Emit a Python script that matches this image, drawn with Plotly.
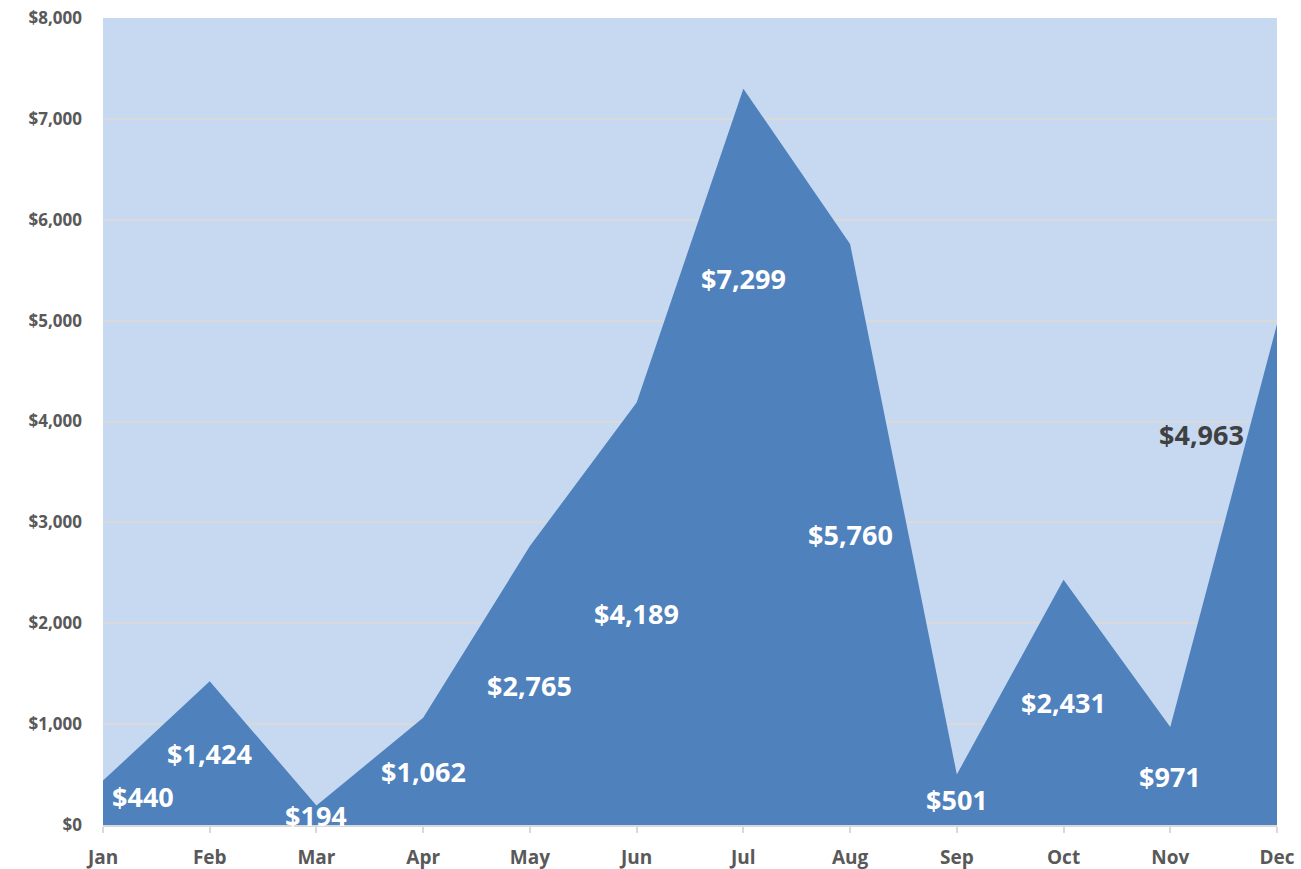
import plotly.graph_objects as go

months = ["Jan", "Feb", "Mar", "Apr", "May", "Jun", "Jul", "Aug", "Sep", "Oct", "Nov", "Dec"]
sales = [440, 1424, 194, 1062, 2765, 4189, 7299, 5760, 501, 2431, 971, 4963]
y_ticks = [0, 1000, 2000, 3000, 4000, 5000, 6000, 7000, 8000]

# label placement tweaks (pixel shifts) for labels moved off the centre of the area
label_shift = {0: (40, 6), 6: (0, 178), 11: (-76, 140)}
label_color = {11: "#404040"}

x = list(range(len(months)))

fig = go.Figure()
fig.add_trace(go.Scatter(
    x=x, y=sales, mode="lines", fill="tozeroy",
    line=dict(color="#4F81BD", width=0), fillcolor="#4F81BD",
    hoverinfo="skip", showlegend=False,
))

for i, v in enumerate(sales):
    dx, dy = label_shift.get(i, (0, 0))
    fig.add_annotation(
        x=i, y=v / 2, text="$" + format(v, ","), showarrow=False,
        xshift=dx, yshift=dy,
        font=dict(family="Open Sans", size=27, color=label_color.get(i, "white"), weight="bold"),
    )

fig.update_layout(
    width=1301, height=869,
    margin=dict(l=103, r=24, t=18, b=44, autoexpand=False),
    paper_bgcolor="white", plot_bgcolor="#C6D9F1",
    font=dict(family="Open Sans", color="#595959"),
)
fig.update_xaxes(
    range=[0, 11], tickvals=x, ticktext=months,
    showgrid=False, zeroline=False, automargin=False,
    showline=True, linecolor="#D9D9D9", linewidth=2,
    ticks="outside", ticklen=6, tickcolor="#D9D9D9", tickwidth=2,
    ticklabelstandoff=8,
    tickfont=dict(size=19, weight="bold", color="#595959"),
)
fig.update_yaxes(
    range=[0, 8000], tickvals=y_ticks,
    ticktext=["$" + format(t, ",") for t in y_ticks],
    showgrid=True, gridcolor="#D9D9D9", gridwidth=1.5, zeroline=False,
    showline=False, ticks="", ticklabelstandoff=20, automargin=False,
    tickfont=dict(size=17, weight="bold", color="#595959"),
)

fig.write_html(
    "out.html",
    config={"displayModeBar": False},
    post_script="document.body.style.margin='0';document.body.style.overflow='hidden';",
)
